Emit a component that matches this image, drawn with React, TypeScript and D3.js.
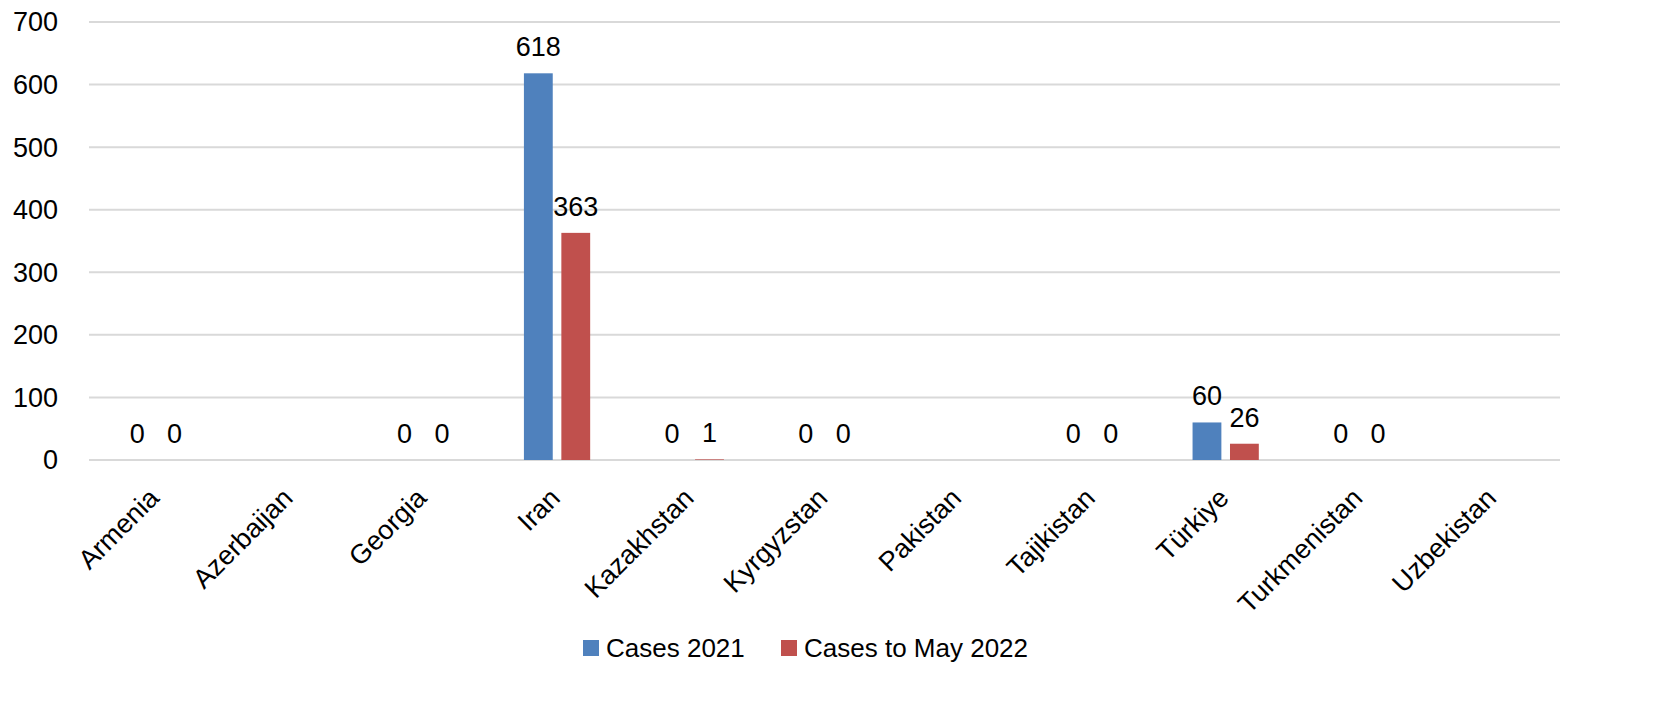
import React, { useEffect, useRef } from 'react';
import * as d3 from 'd3';

const categories = ['Armenia', 'Azerbaijan', 'Georgia', 'Iran', 'Kazakhstan', 'Kyrgyzstan', 'Pakistan', 'Tajikistan', 'Türkiye', 'Turkmenistan', 'Uzbekistan'];
const cases2021: (number | null)[] = [0, null, 0, 618, 0, 0, null, 0, 60, 0, null];
const casesMay2022: (number | null)[] = [0, null, 0, 363, 1, 0, null, 0, 26, 0, null];
const seriesNames = ['Cases 2021', 'Cases to May 2022'];
const seriesColors = ['#4F81BD', '#C0504D'];
const yTicks = [0, 100, 200, 300, 400, 500, 600, 700];

const W = 1671;
const H = 713;
const FONT = '"Liberation Sans", Arial, sans-serif';

const App: React.FC = () => {
  const svgRef = useRef<SVGSVGElement>(null);

  useEffect(() => {
    if (!svgRef.current) return;
    const svg = d3.select(svgRef.current);
    svg.selectAll('*').remove();

    const margin = { top: 22, right: 111, bottom: 253, left: 89 };
    const width = W - margin.left - margin.right;
    const height = H - margin.top - margin.bottom;

    const g = svg.append('g').attr('transform', `translate(${margin.left},${margin.top})`);

    const x0 = d3.scaleBand().domain(categories).range([0, width]).paddingInner(0).paddingOuter(0);
    const x1 = d3.scaleBand().domain(seriesNames).range([x0.bandwidth() / 2 - 35, x0.bandwidth() / 2 + 35]).paddingInner(0.23).paddingOuter(0.05);
    const y = d3.scaleLinear().domain([0, 700]).range([height, 0]);

    // grid
    g.selectAll('.grid')
      .data(yTicks)
      .enter()
      .append('line')
      .attr('x1', 0)
      .attr('x2', width)
      .attr('y1', d => y(d))
      .attr('y2', d => y(d))
      .attr('stroke', '#d9d9d9')
      .attr('stroke-width', 2);

    // y labels
    g.selectAll('.ylab')
      .data(yTicks)
      .enter()
      .append('text')
      .attr('x', -31)
      .attr('y', d => y(d))
      .attr('dy', '0.35em')
      .attr('text-anchor', 'end')
      .style('font-family', FONT)
      .style('font-size', '27px')
      .attr('fill', '#000')
      .text(d => d);

    const series = [cases2021, casesMay2022];
    series.forEach((vals, si) => {
      const name = seriesNames[si];
      const pts = categories.map((c, i) => ({ c, v: vals[i] })).filter(d => d.v !== null) as { c: string; v: number }[];
      g.selectAll(`.bar${si}`)
        .data(pts)
        .enter()
        .append('rect')
        .attr('x', d => (x0(d.c) || 0) + (x1(name) || 0))
        .attr('y', d => y(d.v))
        .attr('width', x1.bandwidth())
        .attr('height', d => height - y(d.v))
        .attr('fill', seriesColors[si]);

      g.selectAll(`.lab${si}`)
        .data(pts)
        .enter()
        .append('text')
        .attr('x', d => (x0(d.c) || 0) + (x1(name) || 0) + x1.bandwidth() / 2)
        .attr('y', d => y(d.v) - 17)
        .attr('text-anchor', 'middle')
        .style('font-family', FONT)
        .style('font-size', '27px')
        .attr('fill', '#000')
        .text(d => d.v);
    });

    // category labels
    g.selectAll('.xlab')
      .data(categories)
      .enter()
      .append('text')
      .attr('transform', d => `translate(${(x0(d) || 0) + x0.bandwidth() / 2 - 2},${height + 33}) rotate(-45)`)
      .attr('text-anchor', 'end')
      .attr('dy', '0.35em')
      .style('font-family', FONT)
      .style('font-size', '27px')
      .attr('fill', '#000')
      .text(d => d);

    // legend
    const legend = svg.append('g').attr('transform', 'translate(583,648)');
    const offsets = [0, 198];
    seriesNames.forEach((n, i) => {
      const lg = legend.append('g').attr('transform', `translate(${offsets[i]},0)`);
      lg.append('rect').attr('x', 0).attr('y', -8).attr('width', 16).attr('height', 16).attr('fill', seriesColors[i]);
      lg.append('text')
        .attr('x', 23)
        .attr('y', 0)
        .attr('dy', '0.35em')
        .style('font-family', FONT)
        .style('font-size', '26px')
        .attr('fill', '#000')
        .text(n);
    });
  }, []);

  return (
    <svg
      ref={svgRef}
      width={W}
      height={H}
      style={{ position: 'absolute', left: 0, top: 0, display: 'block', background: '#fff' }}
    />
  );
};

export default App;
